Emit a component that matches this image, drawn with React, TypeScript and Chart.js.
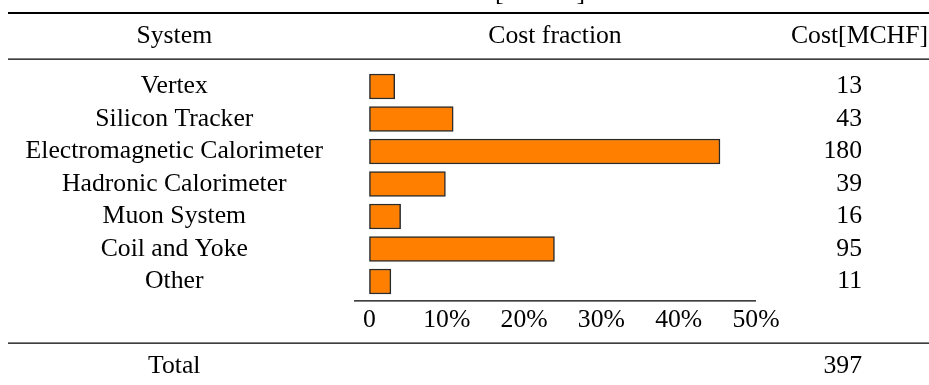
import React, { useEffect, useRef } from "react";
import { Chart, registerables } from "chart.js";

Chart.register(...registerables);

// ---- data ----
const systems = [
  "Vertex",
  "Silicon Tracker",
  "Electromagnetic Calorimeter",
  "Hadronic Calorimeter",
  "Muon System",
  "Coil and Yoke",
  "Other",
];
const costs = [13, 43, 180, 39, 16, 95, 11];
const fractionTicks = [0, 10, 20, 30, 40, 50];
const headers = ["System", "Cost fraction", "Cost[MCHF]"];
const totalLabel = "Total";
const captionFragment = "[MCHF]";

// ---- style ----
const FAMILY = "'Liberation Serif', 'Times New Roman', Times, serif";
const SIZE = 25.7;
const NAME_PAD = 31;

export default function App() {
  const ref = useRef<HTMLCanvasElement>(null);

  useEffect(() => {
    if (!ref.current) return;
    const total = costs.reduce((a, b) => a + b, 0);
    const fractions = costs.map((c) => (c / total) * 100);

    const tablePlugin = {
      id: "tablePlugin",
      afterDraw(chart: any) {
        const { ctx, chartArea, scales } = chart;
        const y = scales.y;
        const y2 = scales.y2;
        const row = y.getPixelForValue(1) - y.getPixelForValue(0);
        const top = chartArea.top;
        const left = 8;
        const right = chart.width;
        ctx.save();
        ctx.strokeStyle = "#000";
        const hline = (yy: number, x0: number, x1: number, w: number) => {
          ctx.lineWidth = w;
          ctx.beginPath();
          ctx.moveTo(x0, yy);
          ctx.lineTo(x1, yy);
          ctx.stroke();
        };
        // rules
        hline(top - 57.2, left, right, 2);
        hline(top - 11.2, left, right, 1.2);
        hline(chartArea.bottom + 3.2, chartArea.left, chartArea.right, 1.2);
        hline(chartArea.bottom + 45.3, left, right, 1.2);

        ctx.font = `${SIZE}px ${FAMILY}`;
        ctx.fillStyle = "#000";
        ctx.textBaseline = "middle";
        const widest = Math.max(...systems.map((s) => ctx.measureText(s).width));
        const nameCenter = y.right - NAME_PAD - widest / 2;
        const headerY = top - 33.5;
        ctx.textAlign = "center";
        ctx.fillText(headers[0], nameCenter, headerY);
        ctx.fillText(headers[1], (chartArea.left + chartArea.right) / 2, headerY);
        ctx.textAlign = "right";
        ctx.fillText(headers[2], right - 1, headerY);

        const totalY = chartArea.bottom + 45.3 + row * 0.7;
        ctx.textAlign = "center";
        ctx.fillText(totalLabel, nameCenter, totalY);
        ctx.textAlign = "right";
        ctx.fillText(String(total), y2.right, totalY);

        // cut-off caption fragment at very top
        ctx.textAlign = "center";
        ctx.textBaseline = "alphabetic";
        ctx.fillText(captionFragment, 540, top - 70);
        ctx.restore();
      },
    };

    const font = { family: FAMILY, size: SIZE };

    const chart = new Chart(ref.current, {
      type: "bar",
      data: {
        labels: systems,
        datasets: [
          {
            data: fractions,
            backgroundColor: "#FF8000",
            borderColor: "#2a2a2a",
            borderWidth: 1.5,
            borderSkipped: false,
            barThickness: 25,
            xAxisID: "x",
            yAxisID: "y",
          },
        ],
      },
      options: {
        animation: false,
        responsive: false,
        maintainAspectRatio: false,
        indexAxis: "y",
        layout: { padding: { top: 70.25, right: 67, left: 0, bottom: 0 } },
        plugins: {
          legend: { display: false },
          tooltip: { enabled: false },
          title: { display: false },
        },
        scales: {
          x: {
            type: "linear",
            position: "bottom",
            min: -2,
            max: 50,
            grid: { display: false, drawTicks: false },
            border: { display: false },
            afterBuildTicks: (s: any) => {
              s.ticks = fractionTicks.map((v) => ({ value: v }));
            },
            ticks: {
              callback: (v: any) => (Number(v) === 0 ? "0" : `${v}%`),
              color: "#000",
              font,
              padding: 7.3,
              maxRotation: 0,
              autoSkip: false,
            },
            afterFit: (s: any) => {
              s.height = 87.25;
            },
          },
          y: {
            type: "category",
            position: "left",
            offset: true,
            grid: { display: false, drawTicks: false },
            border: { display: false },
            ticks: { crossAlign: "center", padding: NAME_PAD, color: "#000", font, autoSkip: false },
            afterFit: (s: any) => {
              s.width = 354;
            },
          },
          y2: {
            type: "category",
            labels: costs.map(String),
            position: "right",
            offset: true,
            grid: { display: false, drawTicks: false },
            border: { display: false },
            ticks: { crossAlign: "far", padding: 0, color: "#000", font, autoSkip: false },
            afterFit: (s: any) => {
              s.width = 106;
            },
          },
        },
      } as any,
      plugins: [tablePlugin],
    });
    return () => chart.destroy();
  }, []);

  return (
    <div style={{ position: "fixed", left: 0, top: 0, width: 929, height: 385, background: "#fff" }}>
      <canvas ref={ref} width={929} height={385} style={{ display: "block", width: 929, height: 385 }} />
    </div>
  );
}
